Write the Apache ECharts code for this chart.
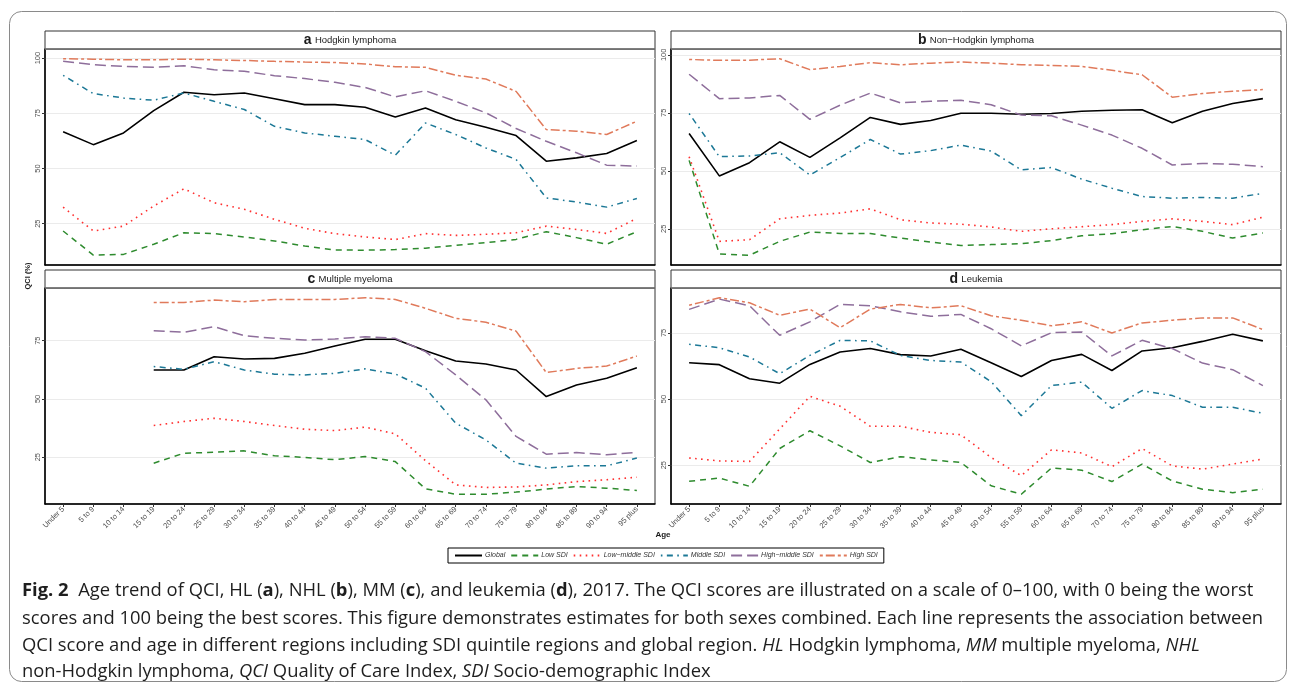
<!DOCTYPE html>
<html><head><meta charset="utf-8">
<script src="https://cdn.jsdelivr.net/npm/echarts@6/dist/echarts.min.js"></script>
<style>html,body{margin:0;padding:0;background:#fff;} #c{width:1293px;height:689px;}</style>
</head><body><div id="c"></div><script>
// ---------- data ----------
const ages = ["Under 5","5 to 9","10 to 14","15 to 19","20 to 24","25 to 29","30 to 34","35 to 39","40 to 44","45 to 49","50 to 54","55 to 59","60 to 64","65 to 69","70 to 74","75 to 79","80 to 84","85 to 89","90 to 94","95 plus"];
const seriesNames = ["Global","Low SDI","Low\u2212middle SDI","Middle SDI","High\u2212middle SDI","High SDI"];
const yTickValues = [25, 50, 75, 100];
const panelLetters = ["a","b","c","d"];
const panelTitles = ["Hodgkin lymphoma","Non\u2212Hodgkin lymphoma","Multiple myeloma","Leukemia"];

// a Hodgkin lymphoma
const hlGlobal     = [66.6,60.8,66.1,76.2,84.5,83.4,84.2,81.6,78.9,78.9,77.7,73.3,77.4,72.1,68.7,64.9,53.3,54.8,56.8,62.7];
const hlLow        = [21.7,10.8,11.1,15.7,20.9,20.5,19.0,17.2,14.9,13.1,13.0,13.3,13.9,15.2,16.4,17.9,21.4,18.7,15.7,21.4];
const hlLowMiddle  = [32.5,21.7,23.9,33.0,40.8,34.5,31.5,27.0,22.9,20.5,19.0,17.8,20.5,19.7,20.2,20.9,23.9,22.4,20.6,27.4];
const hlMiddle     = [92.2,83.9,81.9,80.9,84.2,80.4,76.7,69.1,66.1,64.6,63.1,56.0,70.6,65.4,59.3,54.1,36.7,34.8,32.5,36.4];
const hlHighMiddle = [98.5,97.0,96.2,95.8,96.5,94.7,94.0,92.0,90.7,89.0,86.7,82.4,85.2,80.4,75.2,68.1,62.3,57.1,51.5,51.1];
const hlHigh       = [99.7,99.5,99.2,99.2,99.5,99.2,98.9,98.5,98.2,98.0,97.3,96.1,95.8,92.2,90.5,84.9,67.6,66.9,65.4,71.4];

// b Non-Hodgkin lymphoma
const nhlGlobal     = [66.1,47.8,53.5,62.5,55.8,64.2,73.0,70.0,71.7,74.8,74.8,74.4,74.7,75.7,76.1,76.3,70.7,75.7,79.0,81.1];
const nhlLow        = [54.5,14.2,13.6,19.6,23.6,23.0,23.0,21.0,19.3,17.8,18.2,18.6,19.9,22.0,22.9,24.6,26.0,23.9,21.0,23.2];
const nhlLowMiddle  = [56.1,19.6,20.3,29.3,30.8,31.8,33.6,28.9,27.5,27.0,25.8,23.9,25.0,25.9,26.8,28.2,29.3,28.2,26.8,30.0];
const nhlMiddle     = [74.7,56.1,56.4,57.8,48.2,55.7,63.5,57.2,58.7,61.1,58.5,50.4,51.4,46.4,42.5,38.9,38.2,38.5,38.2,40.3];
const nhlHighMiddle = [91.6,81.1,81.4,82.5,72.2,78.3,83.5,79.3,80.0,80.4,78.5,74.0,73.7,69.7,65.4,59.7,52.5,53.2,52.8,51.8];
const nhlHigh       = [98.0,97.6,97.7,98.3,93.6,95.0,96.6,95.7,96.4,96.9,96.4,95.7,95.4,95.0,93.3,91.4,81.7,83.3,84.3,85.0];

// c Multiple myeloma (no estimates below 15 years)
const mmGlobal     = [null,null,null,62.4,62.4,68.1,67.1,67.4,69.6,72.7,75.6,75.6,70.7,66.3,65.0,62.4,51.0,56.0,58.9,63.4];
const mmLow        = [null,null,null,22.4,26.7,27.1,27.7,25.6,24.9,23.9,25.3,23.1,11.4,9.1,9.1,10.0,11.3,12.4,11.7,10.7];
const mmLowMiddle  = [null,null,null,38.6,40.3,41.7,40.3,38.6,37.0,36.4,37.9,35.0,23.5,13.1,12.0,12.2,13.1,14.5,15.3,16.4];
const mmMiddle     = [null,null,null,63.9,62.7,66.0,62.4,60.6,60.3,61.0,62.9,60.7,54.6,39.6,32.4,22.4,20.3,21.3,21.3,24.6];
const mmHighMiddle = [null,null,null,79.3,78.6,81.0,77.1,76.0,75.3,75.7,76.7,76.0,70.3,60.3,49.6,33.9,26.3,27.0,26.0,27.1];
const mmHigh       = [null,null,null,91.4,91.4,92.4,91.7,92.7,92.7,92.7,93.4,92.7,88.9,84.6,82.9,79.1,61.3,63.1,64.1,68.4];

// d Leukemia
const leuGlobal     = [63.7,63.0,57.7,56.0,63.1,67.8,69.1,66.8,66.3,68.8,63.7,58.5,64.6,66.9,60.8,68.2,69.4,71.8,74.5,72.0];
const leuLow        = [18.9,20.1,17.0,31.3,38.0,32.3,26.0,28.2,27.0,26.0,17.2,14.0,23.9,23.1,18.8,25.4,19.0,15.9,14.6,15.9];
const leuLowMiddle  = [27.7,26.6,26.4,38.7,51.0,47.3,39.7,39.7,37.4,36.5,27.9,21.0,30.8,29.6,24.4,31.3,24.7,23.5,25.4,27.3];
const leuMiddle     = [70.7,69.4,65.9,59.6,66.5,72.2,72.0,66.5,64.6,64.0,56.6,43.7,55.1,56.4,46.5,53.2,51.3,46.9,46.9,44.6];
const leuHighMiddle = [83.9,87.8,85.3,74.1,79.2,85.8,85.3,83.0,81.3,82.0,76.6,70.1,75.1,75.4,66.3,72.2,69.1,63.6,61.1,55.1];
const leuHigh       = [85.5,88.3,86.4,81.7,84.0,77.0,84.0,85.8,84.5,85.3,81.5,79.8,77.7,79.2,75.0,78.8,79.8,80.7,80.7,76.3];

// ---------- layout / styles ----------
const panelData = [
  [hlGlobal, hlLow, hlLowMiddle, hlMiddle, hlHighMiddle, hlHigh],
  [nhlGlobal, nhlLow, nhlLowMiddle, nhlMiddle, nhlHighMiddle, nhlHigh],
  [mmGlobal, mmLow, mmLowMiddle, mmMiddle, mmHighMiddle, mmHigh],
  [leuGlobal, leuLow, leuLowMiddle, leuMiddle, leuHighMiddle, leuHigh]
];
const yRanges = [[6.3,104.1],[9.4,102.5],[4.9,97.6],[10.3,92.0]];
const boxes = [{left:45,top:49},{left:671,top:49},{left:45,top:288},{left:671,top:288}];
const PW = 610, PH = 216;
const lineStyles = [
  {color:'#000000', type:'solid', width:1.6},
  {color:'#2E8B2E', type:[6,5], width:1.5},
  {color:'#FF3030', type:[1.6,4.4], width:1.6},
  {color:'#1C7896', type:[1.6,4.4,6,4.4], width:1.5},
  {color:'#8E6E9B', type:[11,5], width:1.5},
  {color:'#E07A5B', type:[3,3,9,3], width:1.5}
];
const FONT = "'Liberation Sans', Arial, sans-serif";
const idx = ages.map((_, i) => i);

const grids = [], xAxes = [], yAxes = [], series = [], graphics = [];
boxes.forEach((b, p) => {
  grids.push({left:b.left, top:b.top, width:PW, height:PH, show:true, borderColor:'#333', borderWidth:1, backgroundColor:'#fff', containLabel:false});
  const bottomRow = p >= 2;
  xAxes.push({
    type:'value', gridIndex:p, min:-0.6, max:ages.length - 0.4,
    axisLine:{show:true, onZero:false, lineStyle:{color:'#000', width:1.5}},
    axisTick:{show:bottomRow, length:3, customValues:idx, lineStyle:{color:'#333'}},
    axisLabel:{show:bottomRow, customValues:idx, rotate:45, margin:4, fontSize:7.5, color:'#4d4d4d', fontFamily:FONT,
      formatter:(v) => ages[Math.round(v)]},
    splitLine:{show:false}
  });
  const [ymin, ymax] = yRanges[p];
  const yt = yTickValues.filter(v => v >= ymin && v <= ymax);
  yAxes.push({
    type:'value', gridIndex:p, min:ymin, max:ymax,
    axisLine:{show:true, onZero:false, lineStyle:{color:'#000', width:1.5}},
    axisTick:{show:true, length:3, customValues:yt, lineStyle:{color:'#333'}},
    axisLabel:{customValues:yt, rotate:90, margin:3, fontSize:7.5, color:'#4d4d4d', fontFamily:FONT},
    splitLine:{show:true, lineStyle:{color:'#ebebeb', width:1}}
  });
  panelData[p].forEach((arr, s) => {
    series.push({
      name:seriesNames[s], type:'line', xAxisIndex:p, yAxisIndex:p,
      data:arr.map((v, i) => [i, v]).filter(d => d[1] !== null),
      symbol:'none', lineStyle:lineStyles[s], itemStyle:{color:lineStyles[s].color},
      silent:true, animation:false, z:2 + s
    });
  });
  // strip
  graphics.push({type:'rect', shape:{x:b.left, y:b.top - 18, width:PW, height:18}, style:{fill:'#fff', stroke:'#333', lineWidth:1}, z:10});
  graphics.push({type:'line', shape:{x1:b.left, y1:b.top, x2:b.left + PW, y2:b.top}, style:{stroke:'#777', lineWidth:1.5}, z:11});
  graphics.push({type:'text', x:b.left + PW / 2, y:b.top - 9, z:12,
    style:{text:'{l|' + panelLetters[p] + '} {t|' + panelTitles[p] + '}', align:'center', verticalAlign:'middle',
      rich:{l:{fontSize:14, fontWeight:'bold', fontFamily:FONT, fill:'#1a1a1a'}, t:{fontSize:9.5, fontFamily:FONT, fill:'#1a1a1a'}}}});
});

// outer card
graphics.push({type:'rect', shape:{x:9.5, y:11.5, width:1277, height:670, r:12}, style:{fill:null, stroke:'#8a8a8a', lineWidth:1}, z:0, silent:true});
// axis titles
graphics.push({type:'text', x:663, y:535, style:{text:'Age', align:'center', verticalAlign:'middle', fontSize:8, fontWeight:'bold', fontFamily:FONT, fill:'#1a1a1a'}, z:12});
graphics.push({type:'text', x:28, y:276, rotation:Math.PI / 2, style:{text:'QCI (%)', align:'center', verticalAlign:'middle', fontSize:7.5, fontWeight:'bold', fontFamily:FONT, fill:'#1a1a1a'}, z:12});

// caption
const CAP = "'Open Sans', 'Noto Sans', sans-serif";
const CAPSIZE = 18.4;
const capRich = {
  b:{fontWeight:'bold', fontSize:CAPSIZE, fontFamily:CAP, fill:'#1e1e1e'},
  i:{fontStyle:'italic', fontSize:CAPSIZE, fontFamily:CAP, fill:'#1e1e1e'}
};
const captionLines = [
  "{b|Fig. 2}  Age trend of QCI, HL ({b|a}), NHL ({b|b}), MM ({b|c}), and leukemia ({b|d}), 2017. The QCI scores are illustrated on a scale of 0\u2013100, with 0 being the worst",
  "scores and 100 being the best scores. This figure demonstrates estimates for both sexes combined. Each line represents the association between",
  "QCI score and age in different regions including SDI quintile regions and global region. {i|HL} Hodgkin lymphoma, {i|MM} multiple myeloma, {i|NHL}",
  "non-Hodgkin lymphoma, {i|QCI} Quality of Care Index, {i|SDI} Socio-demographic Index"
];
const capY = [591, 619, 646, 672];
captionLines.forEach((t, k) => {
  graphics.push({type:'text', x:22, y:capY[k], z:12,
    style:{text:t, align:'left', verticalAlign:'middle', fontSize:CAPSIZE, fontFamily:CAP, fill:'#1e1e1e', rich:capRich}});
});

const chart = echarts.init(document.getElementById('c'), null, {renderer:'canvas'});
chart.setOption({
  animation:false,
  backgroundColor:'#fff',
  grid:grids, xAxis:xAxes, yAxis:yAxes, series:series,
  legend:{
    data:seriesNames, left:448, top:548, orient:'horizontal',
    itemWidth:27, itemHeight:8, itemGap:5, padding:[4,6],
    borderColor:'#000', borderWidth:1, backgroundColor:'#fff',
    itemStyle:{opacity:0, borderWidth:0},
    textStyle:{fontSize:7, fontStyle:'italic', color:'#333', fontFamily:FONT, padding:[0,0,0,-2]},
    selectedMode:false
  },
  graphic:graphics
});
</script></body></html>
